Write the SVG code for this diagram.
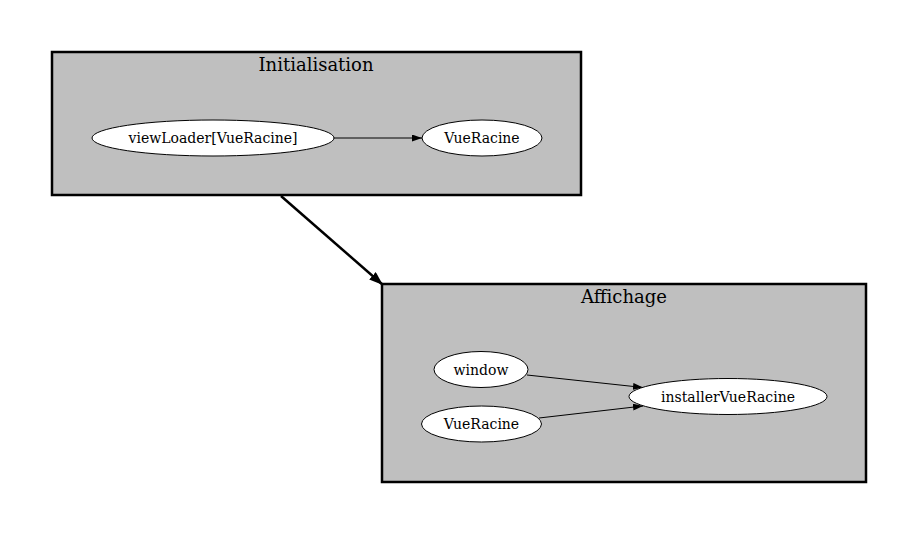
<svg xmlns="http://www.w3.org/2000/svg" width="919" height="534" viewBox="0 0 919 534">
<defs>
<style>
.cluster{fill:#bfbfbf;stroke:#000;stroke-width:2.5}
.title{font-family:"DejaVu Serif",serif;font-size:18px;text-anchor:middle;fill:#000}
.node ellipse{fill:#fff;stroke:#000;stroke-width:1}
.node text{font-family:"DejaVu Serif",serif;font-size:14px;text-anchor:middle;fill:#000}
.edge{fill:none;stroke:#000;stroke-width:1}
.edge.big{stroke-width:2.5}
</style>
<marker id="ah" markerWidth="10" markerHeight="7" refX="10" refY="3.5" orient="auto" markerUnits="userSpaceOnUse">
<path d="M0,0 L10,3.5 L0,7 Z" fill="#000"/>
</marker>
<marker id="ahb" markerWidth="14" markerHeight="10" refX="14" refY="5" orient="auto" markerUnits="userSpaceOnUse">
<path d="M0,0 L14,5 L0,10 Z" fill="#000"/>
</marker>
</defs>
<rect width="919" height="534" fill="#fff"/>
<g id="cluster_init">
<rect class="cluster" x="52" y="52" width="529" height="143"/>
<text class="title" x="316" y="71">Initialisation</text>
</g>
<g id="cluster_aff">
<rect class="cluster" x="382" y="284" width="484" height="198"/>
<text class="title" x="624" y="303">Affichage</text>
</g>
<g id="connectors">
<line class="edge" x1="334" y1="138" x2="422" y2="138" marker-end="url(#ah)"/>
<line class="edge big" x1="281" y1="196" x2="383" y2="285" marker-end="url(#ahb)"/>
<line class="edge" x1="527" y1="375" x2="643" y2="387.5" marker-end="url(#ah)"/>
<line class="edge" x1="539" y1="418" x2="643" y2="406" marker-end="url(#ah)"/>
</g>
<g id="n_viewLoader" class="node">
<ellipse cx="213" cy="138" rx="121" ry="18"/>
<text x="213" y="143">viewLoader[VueRacine]</text>
</g>
<g id="n_vueRacine1" class="node">
<ellipse cx="482" cy="138" rx="60" ry="18"/>
<text x="482" y="143">VueRacine</text>
</g>
<g id="n_window" class="node">
<ellipse cx="481" cy="369.5" rx="47" ry="18"/>
<text x="481" y="374.5">window</text>
</g>
<g id="n_vueRacine2" class="node">
<ellipse cx="481.5" cy="424" rx="60" ry="18"/>
<text x="481.5" y="429">VueRacine</text>
</g>
<g id="n_installer" class="node">
<ellipse cx="728" cy="396.5" rx="99" ry="18"/>
<text x="728" y="401.5">installerVueRacine</text>
</g>
</svg>
